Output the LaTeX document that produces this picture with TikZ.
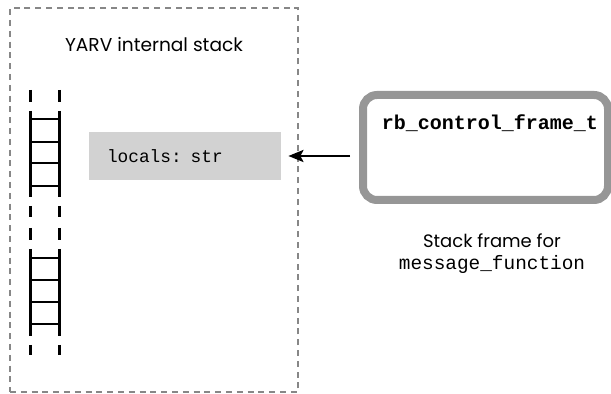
\documentclass[tikz,border=0pt]{standalone}
\usepackage{fontspec}
\setmainfont{Poppins}
\setmonofont{Liberation Mono}
\usetikzlibrary{arrows.meta}
\definecolor{frameGray}{RGB}{150, 150, 150}
\definecolor{stackGray}{RGB}{135, 135, 135}
\definecolor{localsGray}{RGB}{210, 210, 210}
\tikzset{
  stackbox/.style={draw=stackGray, line width=1.3pt, dash pattern=on 3pt off 2.4pt},
  rail/.style={line width=1.5pt},
  framebox/.style={draw=frameGray, line width=4pt, rounded corners=7pt,
    minimum width=122.5pt, minimum height=52.5pt},
  localsbox/.style={fill=localsGray, inner xsep=9pt, text width=78pt, align=left,
    minimum height=24pt, font=\ttfamily\fontsize{8.9}{10}\selectfont},
  ptr/.style={-{Stealth[length=7.5pt, width=6pt, inset=1.5pt]}, line width=1.3pt}
}

\begin{document}
\begin{tikzpicture}[x=0.5pt, y=-0.5pt]
  \useasboundingbox (0,0) rectangle (611,394);
  % YARV stack
  \node[stackbox, minimum width=144pt, minimum height=192pt] (stack) at (154,200) {};
  \node[font=\fontsize{9.3}{10}\selectfont] (title) at (154,45) {YARV internal stack};
  % ladders
  \foreach \x in {30,59} {
    \draw[rail] (\x,90) -- (\x,102);
    \draw[rail] (\x,111) -- (\x,197);
    \draw[rail] (\x,206) -- (\x,217);
    \draw[rail] (\x,228) -- (\x,240);
    \draw[rail] (\x,249) -- (\x,336);
    \draw[rail] (\x,345) -- (\x,355);
  }
  \foreach \y in {119,142,163,186,258,280,302,324}
    \draw[line width=1.2pt] (30,\y) -- (59,\y);
  \node[localsbox] (locals) at (185,156) {locals: str};
  % control frame
  \node[framebox] (frame) at (485.5,147.5) {};
  \node[font=\ttfamily\bfseries\fontsize{10}{12}\selectfont] (ctype) at (490,123) {rb\_control\_frame\_t};
  \node[align=center, font=\fontsize{9}{11}\selectfont] (caption) at (492,254)
    {Stack frame for\\{\ttfamily\fontsize{9.7}{11}\selectfont message\_function}};
  \draw[ptr, shorten <=4.5pt, shorten >=3.5pt] (frame.west |- locals.east) -- (locals.east);
\end{tikzpicture}
\end{document}
